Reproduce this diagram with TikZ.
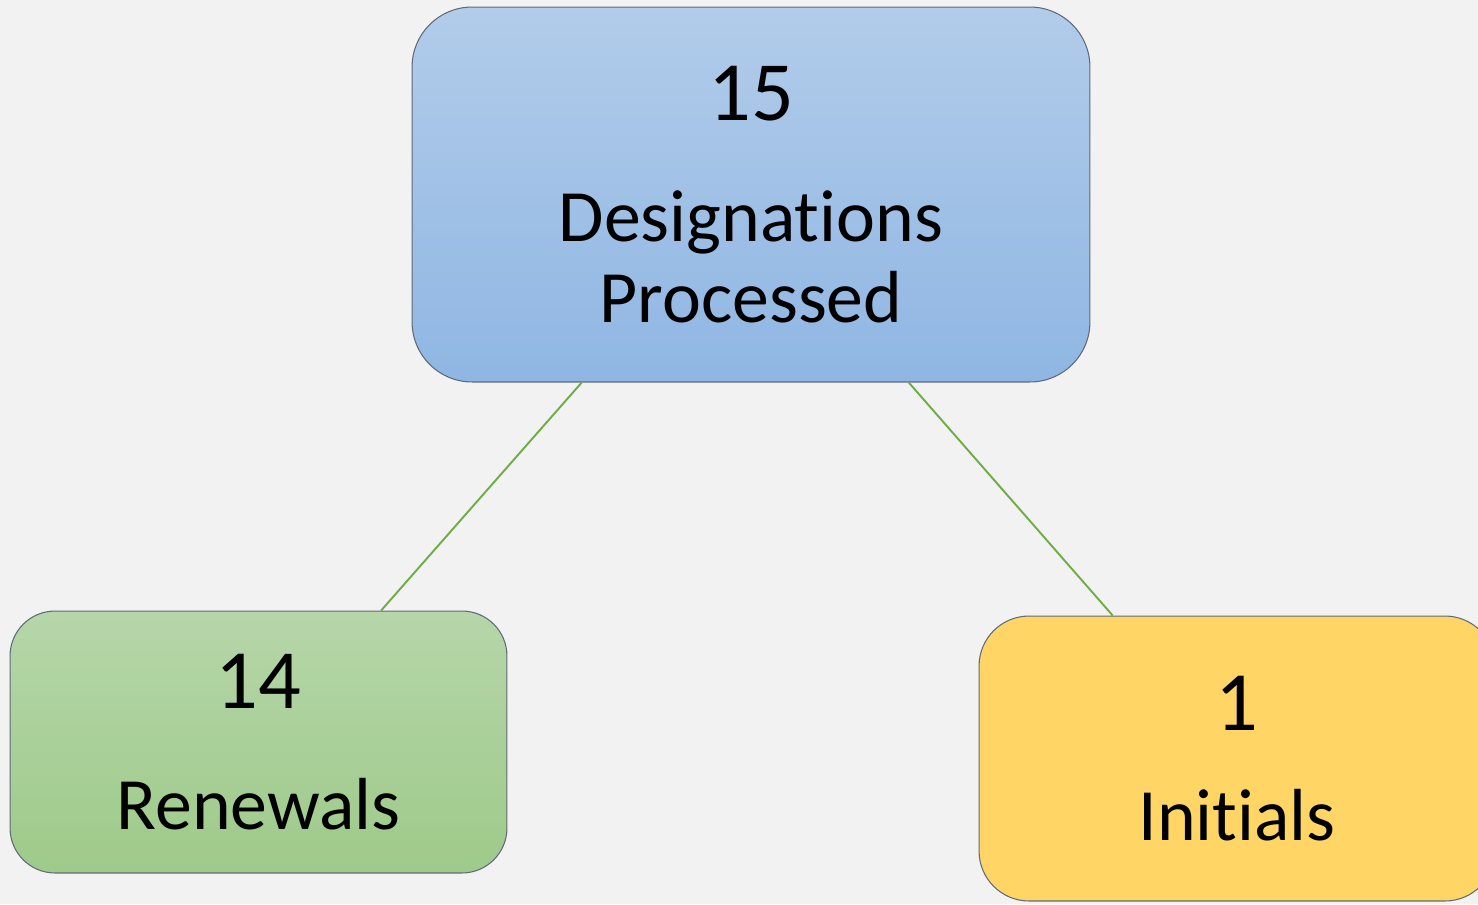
\documentclass[tikz,border=0pt]{standalone}
\usepackage{fontspec}
\setmainfont{Carlito}[Ligatures=NoCommon]
\usepackage{color}
\definecolor{mybg}{RGB}{242,242,242}
\definecolor{mybluetop}{RGB}{178,204,234}
\definecolor{mybluebottom}{RGB}{143,182,227}
\definecolor{mygreentop}{RGB}{182,214,169}
\definecolor{mygreenbottom}{RGB}{158,202,138}
\definecolor{myyellow}{RGB}{255,214,102}
\definecolor{mylinegreen}{RGB}{112,173,71}
\definecolor{myborder}{RGB}{96,106,118}
\usetikzlibrary{positioning}

\newcommand{\bignum}[1]{{\fontsize{48}{46}\selectfont #1}}

\begin{document}
\begin{tikzpicture}[
  x=0.02cm,
  y=-0.02cm,
  mybox/.style={
    draw=myborder,
    line width=0.6pt,
    align=center,
    inner sep=0pt,
    font=\fontsize{42}{46}\selectfont
  },
  myline/.style={
    draw=mylinegreen,
    line width=1.1pt
  }
]
\fill [mybg] (0,0) rectangle (1478,904);
\useasboundingbox (0,0) rectangle (1478,904);

\node [mybox, rounded corners=1.2cm, top color=mybluetop, bottom color=mybluebottom,
  minimum width=13.56cm, minimum height=7.5cm] (designations) at (751,194.5)
  {\bignum{15}\\[23pt]Designations\\Processed};

\node [mybox, rounded corners=0.9cm, top color=mygreentop, bottom color=mygreenbottom,
  minimum width=9.94cm, minimum height=5.24cm] (renewals) at (258.5,742)
  {\bignum{14}\\[23pt]Renewals};

\node [mybox, rounded corners=1cm, fill=myyellow,
  minimum width=10.32cm, minimum height=5.7cm] (initials) at (1237,758.5)
  {\bignum{1}\\[17pt]Initials};

\draw [myline] (designations.228) -- (renewals.47.6);
\draw [myline] (designations.310.8) -- (initials.131.5);

\end{tikzpicture}
\end{document}
